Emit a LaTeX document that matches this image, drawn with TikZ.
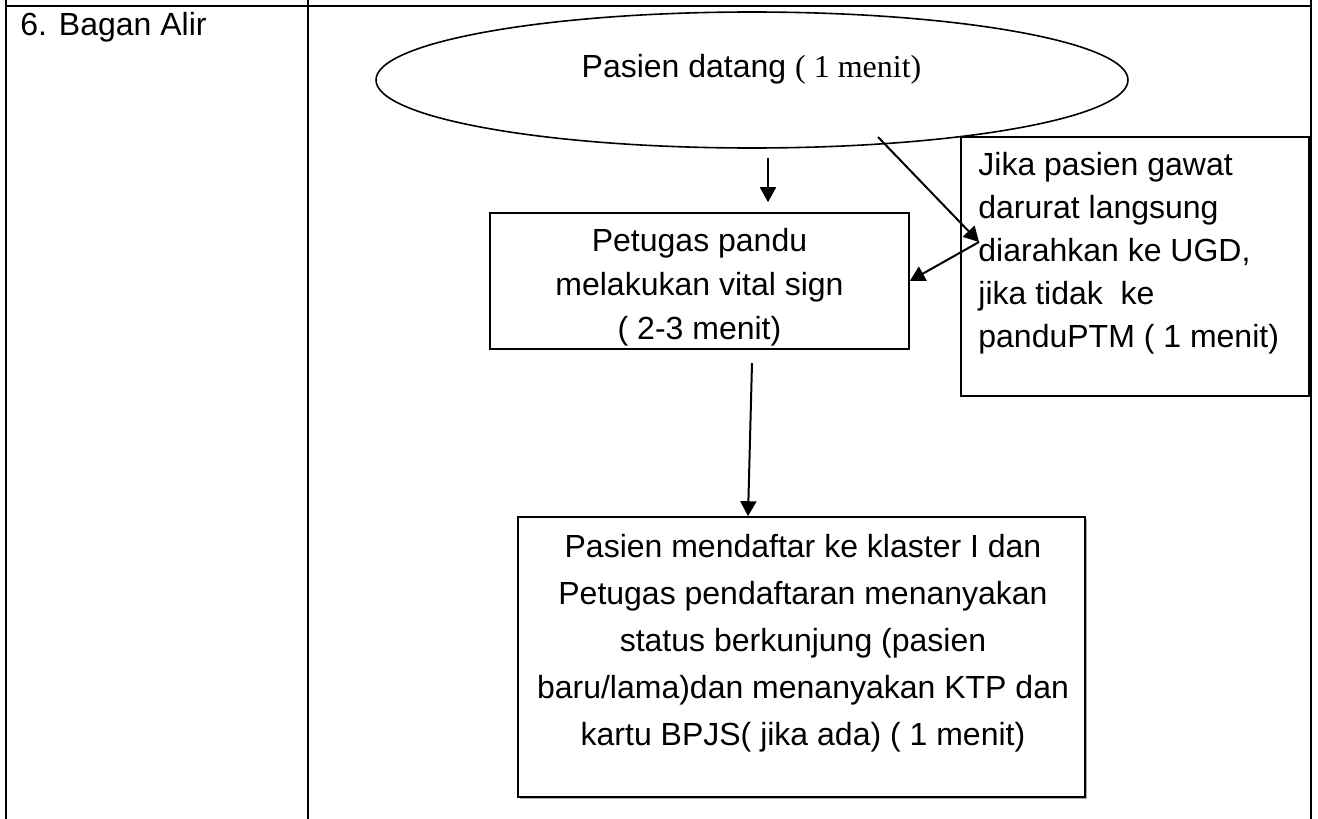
\documentclass[tikz,border=0pt]{standalone}
\usepackage{fontspec}
\setmainfont{Liberation Sans}
\newfontfamily\tnr{Liberation Serif}
\usetikzlibrary{arrows.meta,shapes.geometric,shadows}
\begin{document}
\begin{tikzpicture}[x=0.5pt,y=-0.5pt,
  every node/.style={font=\fontsize{16}{21.5}\selectfont, inner sep=0pt},
  tbl/.style={line width=1pt},
  boxnode/.style={draw, rectangle, line width=0.8pt},
  arr/.style={line width=1pt, -{Triangle[length=7.5pt,width=8pt]}},
]
\useasboundingbox (0,0) rectangle (1318,819);
% table
\draw[tbl] (6,0) -- (6,819);
\draw[tbl] (308,0) -- (308,819);
\draw[tbl] (1311,0) -- (1311,819);
\draw[tbl] (5.5,6) -- (1311.5,6);
\node[anchor=base west] (lbl) at (20,35) {6. Bagan Alir};
% ellipse
\node[draw, ellipse, line width=0.8pt, minimum width=376pt, minimum height=68pt] (e) at (752,80) {};
\node[anchor=base] (et) at (751.5,77) {Pasien datang {\tnr( 1 menit)}};
% box 1
\node[boxnode, minimum width=209.5pt, minimum height=68pt] (b1) at (699.5,281) {};
\node[align=center, font=\fontsize{16}{22}\selectfont] (t1) at (699.5,287) {Petugas pandu\\melakukan vital sign\\( 2-3 menit)};
% right box
\node[boxnode, minimum width=174pt, minimum height=129.5pt] (rb) at (1135,266.5) {};
\node[anchor=north west, align=left] (rt) at (978,152) {Jika pasien gawat\\darurat langsung\\diarahkan ke UGD,\\jika tidak\ \ ke\\panduPTM ( 1 menit)};
% box 2
\node[boxnode, fill=white, minimum width=283.5pt, minimum height=140pt,
      drop shadow={shadow xshift=0.8pt, shadow yshift=-0.8pt, fill=gray!80, opacity=0.8}] (b2) at (801.5,657) {};
\node[align=center, font=\fontsize{16}{23.5}\selectfont] (t2) at (803,643) {Pasien mendaftar ke klaster I dan\\Petugas pendaftaran menanyakan\\status berkunjung (pasien\\baru/lama)dan menanyakan KTP dan\\kartu BPJS( jika ada) ( 1 menit)};
% connectors
\coordinate (a1s) at (768,158);
\draw[arr, shorten >=5pt] (a1s) -- (a1s |- b1.north);
\coordinate (a2s) at (752,363);
\draw[arr] (a2s) -- ([xshift=-26.75pt]b2.north);
\coordinate (ds) at (878,137);
\coordinate (dm) at (979,242);
\draw[arr] (ds) -- (dm);
\draw[arr] (dm) -- (b1.east);
\end{tikzpicture}
\end{document}
